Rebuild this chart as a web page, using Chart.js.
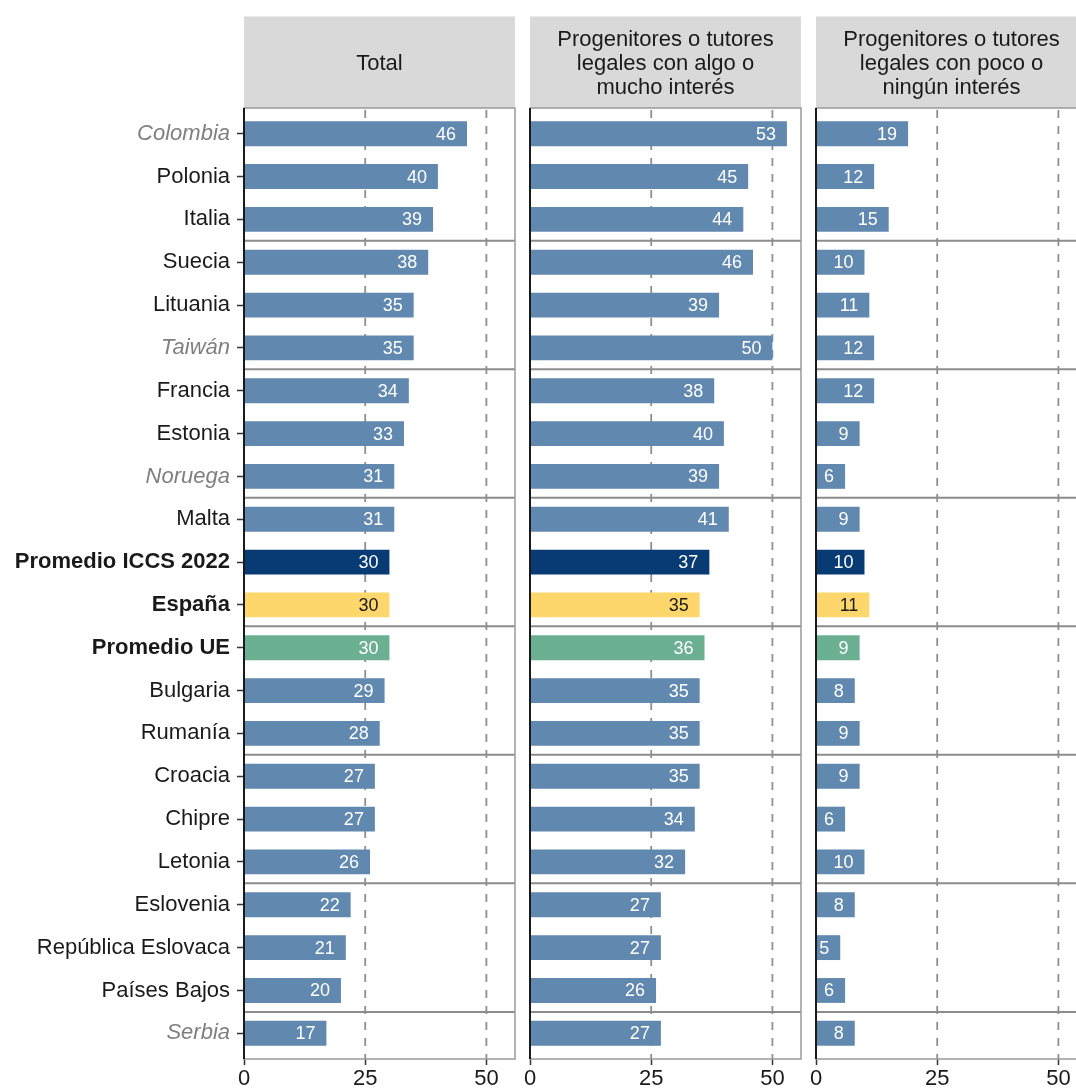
<!DOCTYPE html>
<html>
<head>
<meta charset="utf-8">
<script src="https://cdn.jsdelivr.net/npm/chart.js@4/dist/chart.umd.min.js"></script>
<style>
html,body{margin:0;padding:0;background:#ffffff;overflow:hidden}
#wrap{position:relative;width:1076px;height:1090px;overflow:hidden;background:#fff}
#wrap canvas{position:absolute;top:0}
</style>
</head>
<body>
<div id="wrap">
  <canvas id="c1" width="522" height="1090" style="left:0px;width:522px;height:1090px"></canvas>
  <canvas id="c2" width="293" height="1090" style="left:515px;width:293px;height:1090px"></canvas>
  <canvas id="c3" width="300" height="1090" style="left:801px;width:300px;height:1090px"></canvas>
</div>
<script>
// ---------------- DATA ----------------
const countries = ['Colombia','Polonia','Italia','Suecia','Lituania','Taiwán','Francia','Estonia','Noruega','Malta','Promedio ICCS 2022','España','Promedio UE','Bulgaria','Rumanía','Croacia','Chipre','Letonia','Eslovenia','República Eslovaca','Países Bajos','Serbia'];
const totalValues      = [46,40,39,38,35,35,34,33,31,31,30,30,30,29,28,27,27,26,22,21,20,17];
const interestValues   = [53,45,44,46,39,50,38,40,39,41,37,35,36,35,35,35,34,32,27,27,26,27];
const noInterestValues = [19,12,15,10,11,12,12,9,6,9,10,11,9,8,9,9,6,10,8,5,6,8];
const panelTitles = [
  ['Total'],
  ['Progenitores o tutores','legales con algo o','mucho interés'],
  ['Progenitores o tutores','legales con poco o','ningún interés']
];
const xTickValues = [0,25,50];
const xMax = 55.9;
const italicRows = ['Colombia','Taiwán','Noruega','Serbia'];
const boldRows = ['Promedio ICCS 2022','España','Promedio UE'];
const groupBreaks = [2.5,5.5,8.5,11.5,14.5,17.5,20.5];

// ---------------- STYLE ----------------
const FONT = "'Liberation Sans', Arial, Helvetica, sans-serif";
const barColors = {'Promedio ICCS 2022':'#083b73','España':'#fdd76c','Promedio UE':'#6cb094'};
const defaultBar = '#6189b0';
const labelColors = {'España':'#1a1a1a'};

function rowColor(name){ return barColors[name] || defaultBar; }

const panelPlugin = {
  id: 'panelDeco',
  beforeDraw(chart, args, opts){
    const {ctx, chartArea:a} = chart;
    ctx.save();
    ctx.fillStyle = '#d9d9d9';
    ctx.fillRect(a.left, 16.5, a.right - a.left, a.top - 16.5);
    ctx.fillStyle = '#1a1a1a';
    ctx.font = '22px ' + FONT;
    ctx.textAlign = 'center';
    ctx.textBaseline = 'middle';
    const lines = opts.title || [];
    const cx = (a.left + a.right)/2, cy = 63.5, lh = 24;
    lines.forEach((t,i)=>{ ctx.fillText(t, cx, cy + (i - (lines.length-1)/2)*lh); });
    ctx.restore();
  },
  beforeDatasetsDraw(chart){
    const {ctx, chartArea:a, scales:{x,y}} = chart;
    ctx.save();
    ctx.strokeStyle = '#8f8f8f';
    ctx.lineWidth = 1.8;
    ctx.setLineDash([8,8]);
    xTickValues.forEach(v=>{
      if (v === 0) return;
      const px = x.getPixelForValue(v);
      ctx.beginPath(); ctx.moveTo(px, a.top + 2); ctx.lineTo(px, a.bottom); ctx.stroke();
    });
    ctx.setLineDash([]);
    ctx.strokeStyle = '#8c8c8c';
    ctx.lineWidth = 2;
    groupBreaks.forEach(b=>{
      const py = y.getPixelForValue(b);
      ctx.beginPath(); ctx.moveTo(a.left, py); ctx.lineTo(a.right, py); ctx.stroke();
    });
    ctx.restore();
  },
  afterDatasetsDraw(chart){
    const {ctx, chartArea:a} = chart;
    const meta = chart.getDatasetMeta(0);
    const vals = chart.data.datasets[0].data;
    ctx.save();
    ctx.font = '18px ' + FONT;
    ctx.textBaseline = 'middle';
    ctx.textAlign = 'right';
    meta.data.forEach((el, i)=>{
      const name = countries[i];
      const txt = String(vals[i].x);
      const w = ctx.measureText(txt).width;
      const xr = Math.max(el.x - 11, a.left + 2 + w);
      ctx.fillStyle = labelColors[name] || '#ffffff';
      ctx.fillText(txt, xr, el.y + 1);
    });
    // frame
    ctx.strokeStyle = '#9a9a9a';
    ctx.lineWidth = 1.5;
    ctx.strokeRect(a.left, a.top, a.right - a.left, a.bottom - a.top);
    // left axis line
    ctx.strokeStyle = '#1a1a1a';
    ctx.lineWidth = 2;
    ctx.beginPath(); ctx.moveTo(a.left, a.top); ctx.lineTo(a.left, a.bottom); ctx.stroke();
    ctx.restore();
  }
};

function makePanel(id, values, title, showY, padLeft, padRight){
  const data = values.map((v,i)=>({x:v, y:i}));
  return new Chart(document.getElementById(id), {
    type: 'bar',
    data: {
      datasets: [{
        data: data,
        backgroundColor: countries.map(rowColor),
        borderWidth: 0,
        barPercentage: 0.58,
        categoryPercentage: 1
      }]
    },
    options: {
      indexAxis: 'y',
      responsive: false,
      animation: false,
      events: [],
      layout: { padding: { top: 108, left: padLeft, right: padRight, bottom: 0 } },
      plugins: {
        legend: { display: false },
        tooltip: { enabled: false },
        title: { display: false },
        panelDeco: { title: title }
      },
      scales: {
        x: {
          type: 'linear',
          position: 'bottom',
          min: 0,
          max: xMax,
          offset: false,
          afterBuildTicks(scale){ scale.ticks = xTickValues.map(v=>({value:v})); },
          afterFit(scale){ scale.height = 31; },
          grid: { display: true, offset: false, drawOnChartArea: false, drawTicks: true, tickLength: 6, tickColor: '#333333', tickWidth: 1.5 },
          border: { display: false },
          ticks: { color: '#1a1a1a', font: { family: FONT, size: 22 }, padding: 1, maxRotation: 0, autoSkip: false }
        },
        y: {
          type: 'linear',
          display: showY,
          reverse: true,
          offset: false,
          min: -0.6,
          max: 21.6,
          afterBuildTicks(scale){ scale.ticks = countries.map((c,i)=>({value:i})); },
          afterFit(scale){ if (showY) scale.width = 244; },
          grid: { display: true, offset: false, drawOnChartArea: false, drawTicks: true, tickLength: 7, tickColor: '#333333', tickWidth: 1.5 },
          border: { display: false },
          ticks: {
            autoSkip: false,
            padding: 7,
            callback: (v)=> countries[v],
            color: (ctx)=> italicRows.includes(countries[ctx.index]) ? '#7f7f7f' : '#1a1a1a',
            font: (ctx)=> {
              const n = countries[ctx.index];
              return { family: FONT, size: 22, style: italicRows.includes(n) ? 'italic' : 'normal', weight: boldRows.includes(n) ? 'bold' : 'normal' };
            }
          }
        }
      }
    },
    plugins: [panelPlugin]
  });
}

makePanel('c1', totalValues, panelTitles[0], true, 0, 7);
makePanel('c2', interestValues, panelTitles[1], false, 15, 7);
makePanel('c3', noInterestValues, panelTitles[2], false, 15, 14);
</script>
</body>
</html>
